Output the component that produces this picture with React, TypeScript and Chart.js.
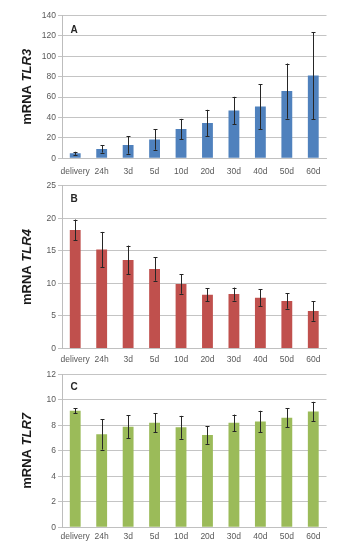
import React, { useEffect, useRef } from "react";
import { Chart, registerables } from "chart.js";

Chart.register(...registerables);

const categories = ["delivery", "24h", "3d", "5d", "10d", "20d", "30d", "40d", "50d", "60d"];

const tlr3Values = [4.9, 9.2, 13, 18.4, 28.6, 34.5, 46.8, 50.7, 65.8, 81];
const tlr3Errors = [1.5, 3.6, 8.5, 10, 10, 13, 13.4, 22, 27, 42.6];
const tlr3Ticks = { max: 140, step: 20 };

const tlr4Values = [18.2, 15.2, 13.6, 12.2, 9.9, 8.25, 8.35, 7.8, 7.3, 5.75];
const tlr4Errors = [1.6, 2.7, 2.2, 1.8, 1.5, 1.0, 1.0, 1.3, 1.2, 1.5];
const tlr4Ticks = { max: 25, step: 5 };

const tlr7Values = [9.15, 7.3, 7.9, 8.2, 7.85, 7.25, 8.2, 8.3, 8.6, 9.1];
const tlr7Errors = [0.2, 1.2, 0.9, 0.75, 0.9, 0.7, 0.65, 0.85, 0.75, 0.75];
const tlr7Ticks = { max: 12, step: 2 };

const FONT = "'Liberation Sans', Arial, sans-serif";

type PanelProps = {
  top: number;
  height: number;
  values: number[];
  errors: number[];
  ticks: { max: number; step: number };
  color: string;
  letter: string;
  gene: string;
  padTop: number;
  xAxisHeight: number;
  labelPad: number;
  letterOffset: number;
};

function Panel(p: PanelProps) {
  const ref = useRef<HTMLCanvasElement | null>(null);
  useEffect(() => {
    if (!ref.current) return;
    const errorBars = {
      id: "errorBars",
      afterDatasetsDraw(chart: any) {
        const ctx = chart.ctx;
        const meta = chart.getDatasetMeta(0);
        const yScale = chart.scales.y;
        ctx.save();
        ctx.strokeStyle = "#262626";
        ctx.lineWidth = 1;
        meta.data.forEach((bar: any, i: number) => {
          const x = Math.round(bar.x) + 0.5;
          const yTop = yScale.getPixelForValue(p.values[i] + p.errors[i]);
          const yBot = yScale.getPixelForValue(p.values[i] - p.errors[i]);
          ctx.beginPath();
          ctx.moveTo(x, yTop);
          ctx.lineTo(x, yBot);
          ctx.moveTo(x - 2, Math.round(yTop) + 0.5);
          ctx.lineTo(x + 2, Math.round(yTop) + 0.5);
          ctx.moveTo(x - 2, Math.round(yBot) + 0.5);
          ctx.lineTo(x + 2, Math.round(yBot) + 0.5);
          ctx.stroke();
        });
        ctx.restore();
      },
    };
    const labels = {
      id: "panelLabels",
      afterDraw(chart: any) {
        const ctx = chart.ctx;
        const area = chart.chartArea;
        ctx.save();
        // panel letter
        ctx.fillStyle = "#262626";
        ctx.font = `bold 10px ${FONT}`;
        ctx.textAlign = "left";
        ctx.textBaseline = "middle";
        ctx.fillText(p.letter, area.left + 8.5, area.top + p.letterOffset);
        // y axis title
        const cy = (area.top + area.bottom) / 2;
        ctx.translate(27, cy);
        ctx.rotate(-Math.PI / 2);
        const part1 = "mRNA ";
        ctx.font = `bold 13px ${FONT}`;
        const w1 = ctx.measureText(part1).width;
        ctx.font = `italic bold 13px ${FONT}`;
        const w2 = ctx.measureText(p.gene).width;
        const start = -(w1 + w2) / 2;
        ctx.fillStyle = "#1a1a1a";
        ctx.textBaseline = "middle";
        ctx.font = `bold 13px ${FONT}`;
        ctx.fillText(part1, start, 0);
        ctx.font = `italic bold 13px ${FONT}`;
        ctx.fillText(p.gene, start + w1, 0);
        ctx.restore();
      },
    };
    const chart = new Chart(ref.current, {
      type: "bar",
      data: {
        labels: categories,
        datasets: [
          {
            data: p.values,
            backgroundColor: p.color,
            borderWidth: 0,
            categoryPercentage: 1,
            barPercentage: 0.41,
          },
        ],
      },
      options: {
        animation: false,
        responsive: true,
        maintainAspectRatio: false,
        layout: { padding: { top: p.padTop, right: 18.5, left: 0, bottom: 0 } },
        plugins: { legend: { display: false }, tooltip: { enabled: false } },
        scales: {
          x: {
            grid: { display: false, drawTicks: false },
            border: { display: true, color: "#c0c0c0" },
            ticks: { color: "#595959", font: { family: FONT, size: 8.5 }, padding: p.labelPad, maxRotation: 0, autoSkip: false },
            afterFit: (s: any) => {
              s.height = p.xAxisHeight;
            },
          },
          y: {
            min: 0,
            max: p.ticks.max,
            ticks: { stepSize: p.ticks.step, color: "#595959", font: { family: FONT, size: 8.5 }, padding: 2 },
            grid: { color: "#c4c4c4", tickLength: 4, drawTicks: true },
            border: { display: true, color: "#bdbdbd" },
            afterFit: (s: any) => {
              s.width = 62;
            },
          },
        },
      },
      plugins: [errorBars, labels],
    });
    return () => chart.destroy();
  }, []);
  return (
    <div style={{ position: "absolute", left: 0, top: p.top, width: 345, height: p.height }}>
      <canvas ref={ref} />
    </div>
  );
}

export default function App() {
  return (
    <div style={{ position: "absolute", left: 0, top: 0, width: 345, height: 550, background: "#fff" }}>
      <Panel top={0} height={178} values={tlr3Values} errors={tlr3Errors} ticks={tlr3Ticks} color="#4f81bd" letter="A" gene="TLR3" padTop={15.3} xAxisHeight={19.7} labelPad={8.5} letterOffset={14.7} />
      <Panel top={178} height={186} values={tlr4Values} errors={tlr4Errors} ticks={tlr4Ticks} color="#c0504d" letter="B" gene="TLR4" padTop={7.7} xAxisHeight={15.6} labelPad={6.5} letterOffset={13.6} />
      <Panel top={364} height={186} values={tlr7Values} errors={tlr7Errors} ticks={tlr7Ticks} color="#9bbb59" letter="C" gene="TLR7" padTop={10.5} xAxisHeight={22.8} labelPad={4.8} letterOffset={12.5} />
    </div>
  );
}
